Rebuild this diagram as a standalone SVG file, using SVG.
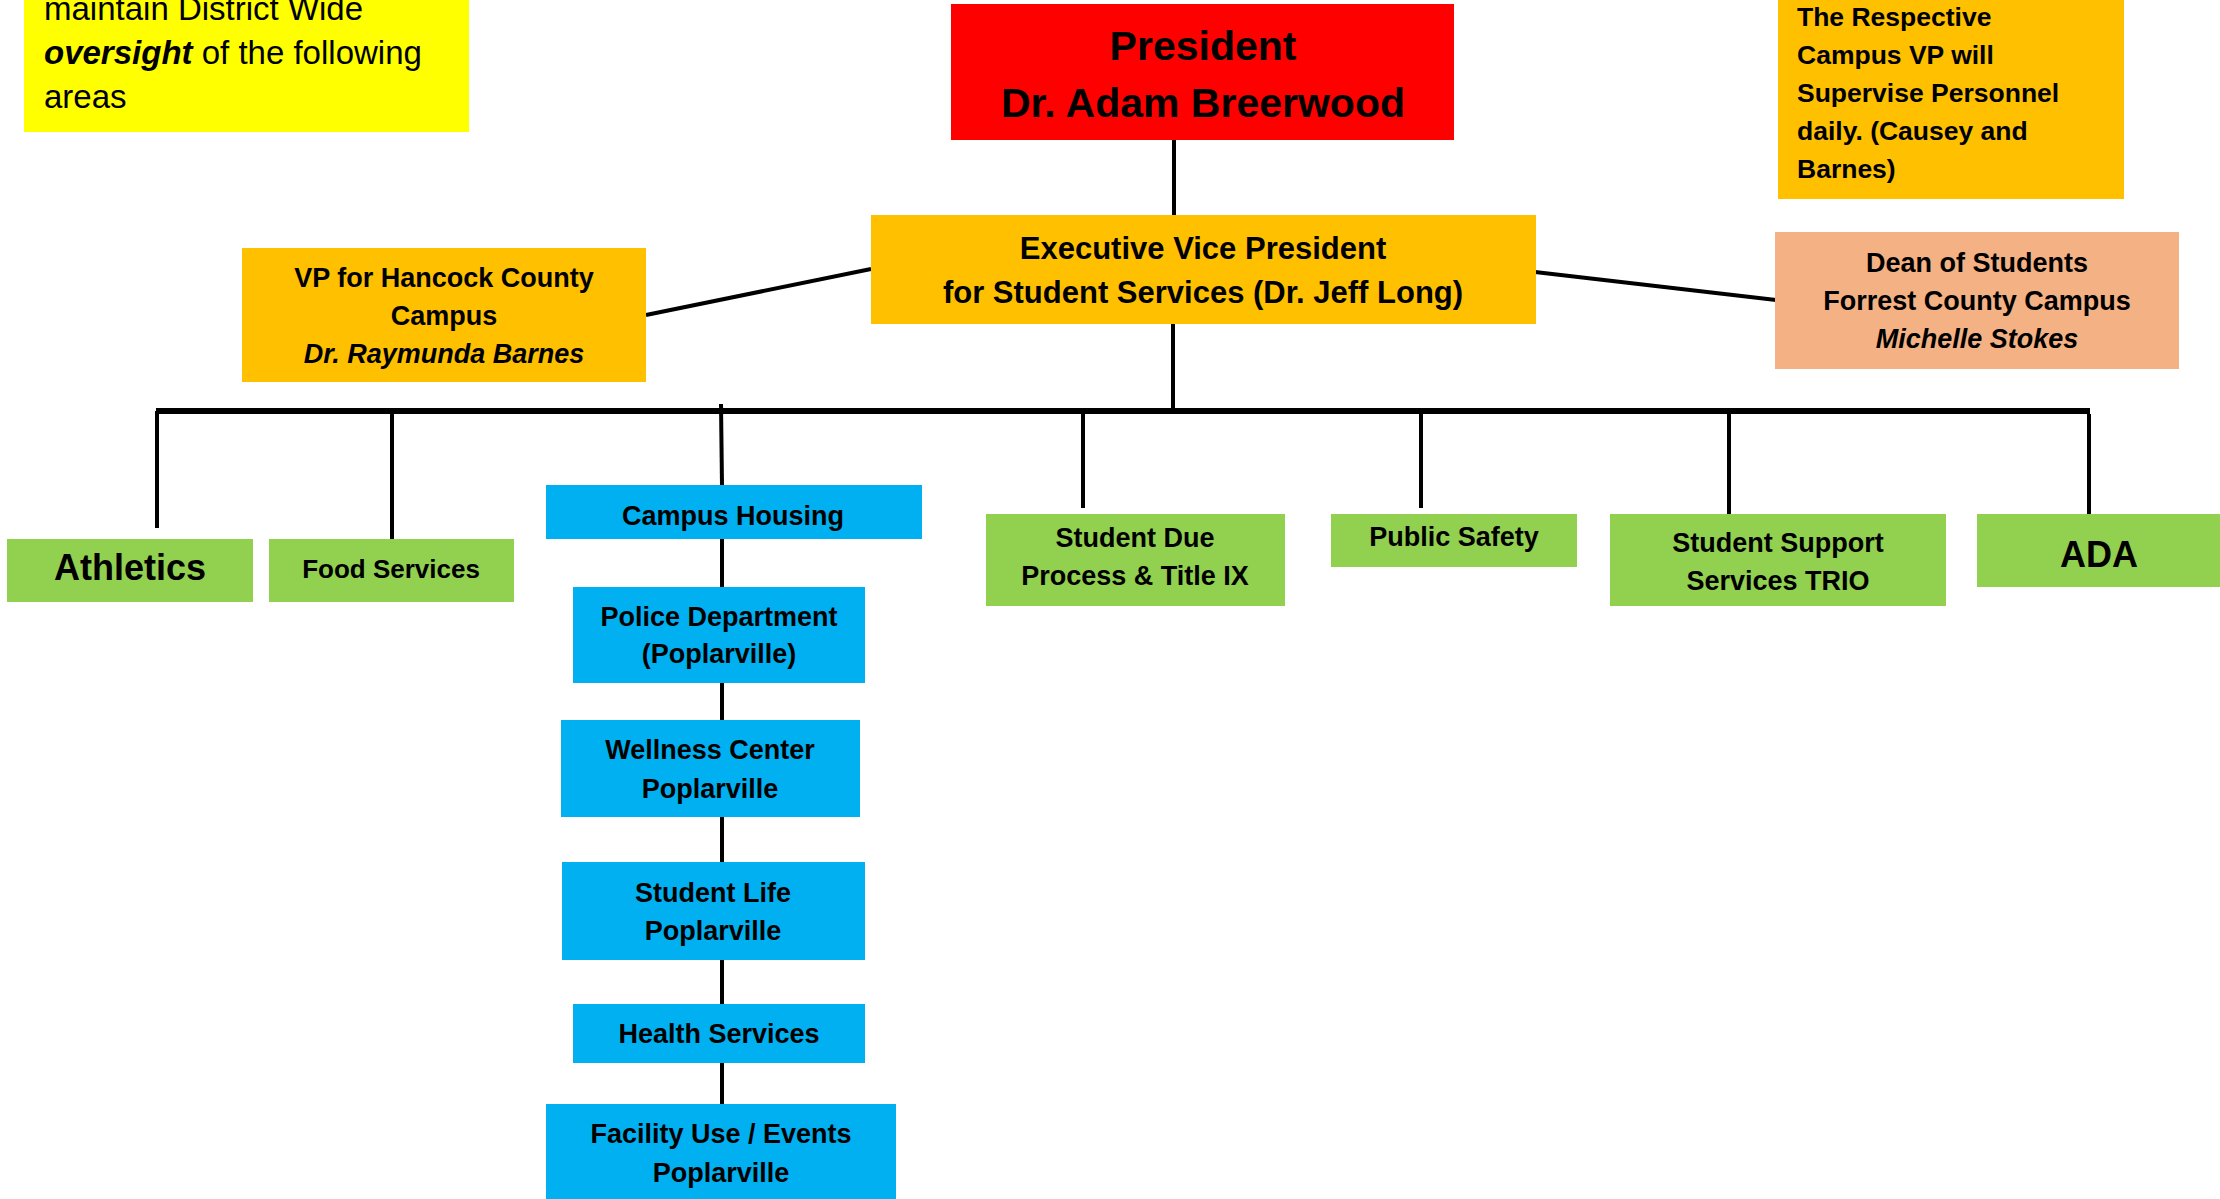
<svg xmlns="http://www.w3.org/2000/svg" width="2220" height="1199" viewBox="0 0 2220 1199">
<style>
text{font-family:"Liberation Sans",Arial,sans-serif;font-weight:bold;fill:#000}
.c{text-anchor:middle}
.t{font-size:27px}
.i{font-style:italic}
.reg{font-weight:normal}
.ln{stroke:#000;stroke-width:4;fill:none}
.bar{stroke:#000;stroke-width:6;fill:none}
.red{fill:#FF0000}
.org{fill:#FFC000}
.yel{fill:#FFFF00}
.sal{fill:#F4B183}
.grn{fill:#92D050}
.blu{fill:#00B0F0}
</style>
<rect width="2220" height="1199" fill="#fff"/>
<g id="connectors">
<line class="ln" x1="1174" y1="140" x2="1174" y2="216"/>
<line class="ln" x1="1173" y1="323" x2="1173" y2="408"/>
<line class="ln" x1="646" y1="315" x2="871" y2="269"/>
<line class="ln" x1="1535" y1="272" x2="1776" y2="300"/>
<line class="bar" x1="156" y1="411" x2="2090" y2="411"/>
<line class="ln" x1="157" y1="411" x2="157" y2="528"/>
<line class="ln" x1="392" y1="408" x2="392" y2="539"/>
<line class="ln" x1="721" y1="404" x2="722" y2="486"/>
<line class="ln" x1="1083" y1="411" x2="1083" y2="508"/>
<line class="ln" x1="1421" y1="411" x2="1421" y2="508"/>
<line class="ln" x1="1729" y1="411" x2="1729" y2="514"/>
<line class="ln" x1="2089" y1="414" x2="2089" y2="514"/>
<line class="ln" x1="722" y1="538" x2="722" y2="588"/>
<line class="ln" x1="722" y1="682" x2="722" y2="721"/>
<line class="ln" x1="722" y1="816" x2="722" y2="863"/>
<line class="ln" x1="722" y1="959" x2="722" y2="1005"/>
<line class="ln" x1="722" y1="1062" x2="722" y2="1105"/>
</g>
<g id="note-oversight">
<rect class="yel" x="24" y="0" width="445" height="132"/>
<text class="reg" x="44" y="20" font-size="33">maintain District Wide</text>
<text class="reg" x="44" y="64" font-size="33"><tspan font-weight="bold" font-style="italic">oversight</tspan> of the following</text>
<text class="reg" x="44" y="108" font-size="33">areas</text>
</g>
<g id="president">
<rect class="red" x="951" y="4" width="503" height="136"/>
<text class="c" x="1203" y="60" font-size="41">President</text>
<text class="c" x="1203" y="117" font-size="41">Dr. Adam Breerwood</text>
</g>
<g id="note-supervise">
<rect class="org" x="1778" y="0" width="346" height="199"/>
<text x="1797" y="26" font-size="26.5">The Respective</text>
<text x="1797" y="64" font-size="26.5">Campus VP will</text>
<text x="1797" y="102" font-size="26.5">Supervise Personnel</text>
<text x="1797" y="140" font-size="26.5">daily. (Causey and</text>
<text x="1797" y="178" font-size="26.5">Barnes)</text>
</g>
<g id="evp">
<rect class="org" x="871" y="215" width="665" height="109"/>
<text class="c" x="1203" y="259" font-size="31">Executive Vice President</text>
<text class="c" x="1203" y="303" font-size="31">for Student Services (Dr. Jeff Long)</text>
</g>
<g id="vp-hancock">
<rect class="org" x="242" y="248" width="404" height="134"/>
<text class="c t" x="444" y="287">VP for Hancock County</text>
<text class="c t" x="444" y="325">Campus</text>
<text class="c t i" x="444" y="363">Dr. Raymunda Barnes</text>
</g>
<g id="dean">
<rect class="sal" x="1775" y="232" width="404" height="137"/>
<text class="c t" x="1977" y="272">Dean of Students</text>
<text class="c t" x="1977" y="310">Forrest County Campus</text>
<text class="c t i" x="1977" y="348">Michelle Stokes</text>
</g>
<g id="athletics">
<rect class="grn" x="7" y="539" width="246" height="63"/>
<text class="c" x="130" y="580" font-size="36">Athletics</text>
</g>
<g id="food-services">
<rect class="grn" x="269" y="539" width="245" height="63"/>
<text class="c" x="391" y="578" font-size="26">Food Services</text>
</g>
<g id="student-due-process">
<rect class="grn" x="986" y="514" width="299" height="92"/>
<text class="c t" x="1135" y="547">Student Due</text>
<text class="c t" x="1135" y="585">Process &amp; Title IX</text>
</g>
<g id="public-safety">
<rect class="grn" x="1331" y="514" width="246" height="53"/>
<text class="c t" x="1454" y="546">Public Safety</text>
</g>
<g id="student-support">
<rect class="grn" x="1610" y="514" width="336" height="92"/>
<text class="c t" x="1778" y="552">Student Support</text>
<text class="c t" x="1778" y="590">Services TRIO</text>
</g>
<g id="ada">
<rect class="grn" x="1977" y="514" width="243" height="73"/>
<text class="c" x="2099" y="567" font-size="36">ADA</text>
</g>
<g id="campus-housing">
<rect class="blu" x="546" y="485" width="376" height="54"/>
<text class="c t" x="733" y="525">Campus Housing</text>
</g>
<g id="police">
<rect class="blu" x="573" y="587" width="292" height="96"/>
<text class="c t" x="719" y="626">Police Department</text>
<text class="c t" x="719" y="663">(Poplarville)</text>
</g>
<g id="wellness">
<rect class="blu" x="561" y="720" width="299" height="97"/>
<text class="c t" x="710" y="759">Wellness Center</text>
<text class="c t" x="710" y="798">Poplarville</text>
</g>
<g id="student-life">
<rect class="blu" x="562" y="862" width="303" height="98"/>
<text class="c t" x="713" y="902">Student Life</text>
<text class="c t" x="713" y="940">Poplarville</text>
</g>
<g id="health-services">
<rect class="blu" x="573" y="1004" width="292" height="59"/>
<text class="c t" x="719" y="1043">Health Services</text>
</g>
<g id="facility-use">
<rect class="blu" x="546" y="1104" width="350" height="95"/>
<text class="c t" x="721" y="1143">Facility Use / Events</text>
<text class="c t" x="721" y="1182">Poplarville</text>
</g>
</svg>
